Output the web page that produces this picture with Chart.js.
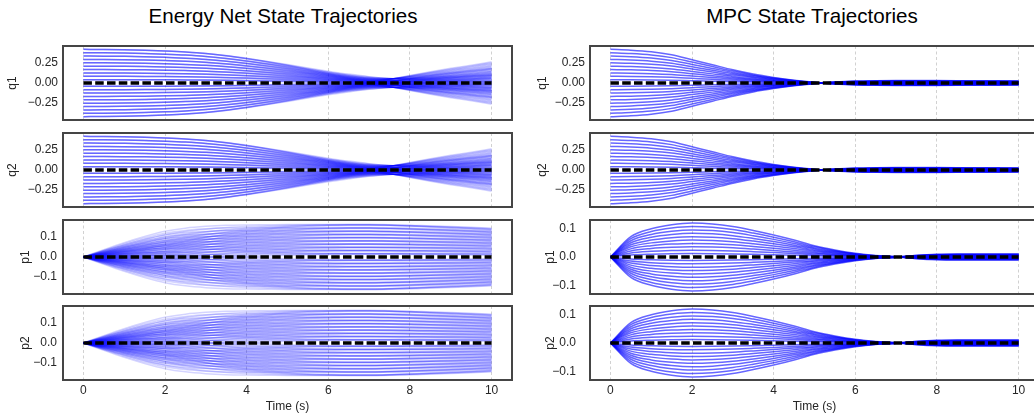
<!DOCTYPE html>
<html><head><meta charset="utf-8">
<script src="https://cdn.jsdelivr.net/npm/chart.js@4.4.1/dist/chart.umd.min.js"></script>
<style>
html,body{margin:0;padding:0;background:#fff;width:1034px;height:419px;overflow:hidden;position:relative;font-family:"Liberation Sans",Arial,sans-serif;}
.panel{position:absolute;overflow:visible;}
.title{position:absolute;top:4px;line-height:23px;font-size:20.6px;color:#000;white-space:nowrap;transform:translateX(-50%);}
</style></head><body>
<div class="title" style="left:283px">Energy Net State Trajectories</div>
<div class="title" style="left:812px">MPC State Trajectories</div>
<script>
// ---- data ----
const timeSteps = [0,0.5,1,1.5,2,2.5,3,3.5,4,4.5,5,5.5,6,6.5,7,7.5,8,8.5,9,9.5,10];
const timeTicks = [0,2,4,6,8,10];
const initialOffsets = [-1,-0.9,-0.8,-0.7,-0.6,-0.5,-0.4,-0.3,-0.2,-0.1,0.1,0.2,0.3,0.4,0.5,0.6,0.7,0.8,0.9,1];
const energyCouplingWeights = [-1,-0.5,0,0.5,1];
const energyQMain     = [0.42,0.419,0.416,0.41,0.4,0.387,0.368,0.34,0.305,0.265,0.222,0.176,0.13,0.085,0.043,0.006,-0.027,-0.055,-0.077,-0.093,-0.105];
const energyQCoupling = [0,0,0,0,0,0,0.001,0.002,0.003,0.005,0.008,0.012,0.018,0.026,0.036,0.05,0.066,0.085,0.106,0.13,0.16];
const energyPMain     = [0,0.025,0.05,0.073,0.094,0.112,0.126,0.137,0.145,0.151,0.156,0.159,0.161,0.162,0.162,0.16,0.157,0.153,0.149,0.145,0.14];
const energyPCoupling = [0,0.012,0.022,0.03,0.035,0.033,0.028,0.022,0.016,0.011,0.007,0.004,0.003,0.002,0.002,0.002,0.003,0.003,0.004,0.004,0.005];
const mpcQMain = [0.42,0.41,0.39,0.352,0.29,0.228,0.165,0.112,0.07,0.035,0.008,-0.012,-0.024,-0.029,-0.031,-0.031,-0.03,-0.029,-0.028,-0.027,-0.026];
const mpcPMain = [0,0.072,0.1,0.114,0.12,0.117,0.108,0.094,0.078,0.06,0.04,0.025,0.013,0.005,0.001,-0.006,-0.01,-0.011,-0.011,-0.011,-0.011];
const referenceValue = 0;
const qTicks = [-0.25,0,0.25];
const qTickLabels = ['\u22120.25','0.00','0.25'];
const pTicks = [-0.1,0,0.1];
const pTickLabels = ['\u22120.1','0.0','0.1'];
const stateNames = ['q1','q2','p1','p2'];
const xAxisTitle = 'Time (s)';

// ---- layout ----
const panelTops = [46,133,220,306];
const panelH = 74;
const FONT = {family:'"Liberation Sans", Arial, sans-serif', size:12};
const TXT = '#262626';

const framePlugin = {
  id:'frame',
  afterDraw(chart){
    const {ctx, chartArea:a} = chart;
    ctx.save();
    ctx.strokeStyle = '#454545';
    ctx.lineWidth = 2;
    ctx.strokeRect(a.left, a.top, a.right - a.left, a.bottom - a.top);
    ctx.restore();
  }
};

function energyDatasets(main, coupling){
  const ds = [];
  initialOffsets.forEach(a => {
    energyCouplingWeights.forEach(b => {
      ds.push({
        data: timeSteps.map((t,i) => ({x:t, y:a*main[i] + b*coupling[i]})),
        borderColor:'rgba(0,0,255,0.17)', borderWidth:1.5, order:1
      });
    });
  });
  return ds;
}
function mpcDatasets(main){
  return initialOffsets.map(a => ({
    data: timeSteps.map((t,i) => ({x:t, y:a*main[i]})),
    borderColor:'rgba(0,0,255,0.6)', borderWidth:1.5, order:1
  }));
}
function referenceDataset(){
  return {
    data: timeSteps.map(t => ({x:t, y:referenceValue})),
    borderColor:'#000', borderWidth:3.5, borderDash:[8.5,3.3], order:0
  };
}

function zeroPad(s){ s.paddingTop = 0; s.paddingBottom = 0; s.paddingLeft = 0; s.paddingRight = 0; }

function makePanel(cfg){
  const bottom = cfg.bottom;
  const axisH = bottom ? 36 : 0;
  const W = 520, H = 2 + panelH + (bottom ? axisH : 2);
  const div = document.createElement('div');
  div.className = 'panel';
  div.style.left = cfg.left + 'px';
  div.style.top = (cfg.top - 2) + 'px';
  div.style.width = W + 'px';
  div.style.height = H + 'px';
  const cv = document.createElement('canvas');
  cv.width = W; cv.height = H;
  cv.style.width = W + 'px'; cv.style.height = H + 'px';
  div.appendChild(cv);
  document.body.appendChild(div);
  const isQ = cfg.name[0] === 'q';
  const ticks = isQ ? qTicks : pTicks;
  const labels = isQ ? qTickLabels : pTickLabels;
  new Chart(cv, {
    type:'line',
    data:{datasets:[referenceDataset(), ...cfg.datasets]},
    options:{
      responsive:false, maintainAspectRatio:false, animation:false, events:[],
      devicePixelRatio:1,
      layout:{padding:{top:2, bottom: bottom ? 0 : 2, left:0, right:cfg.padRight}},
      elements:{point:{radius:0}, line:{cubicInterpolationMode:'monotone', fill:false}},
      plugins:{legend:{display:false}, tooltip:{enabled:false}},
      scales:{
        x:{
          type:'linear', min:-0.5, max:10.5,
          afterBuildTicks: s => { s.ticks = timeTicks.map(v => ({value:v})); },
          afterFit: s => { s.height = axisH; zeroPad(s); },
          ticks:{display:bottom, padding:3, font:FONT, color:TXT, maxRotation:0, autoSkip:false, callback: v => String(v)},
          grid:{display:true, drawTicks:false, color:'#cccccc', lineWidth:0.9},
          border:{display:false, dash:[3,2.5]},
          title:{display:bottom, text:xAxisTitle, font:FONT, color:TXT, padding:{top:0, bottom:2}}
        },
        y:{
          type:'linear', min:cfg.yMin, max:cfg.yMax,
          afterBuildTicks: s => { s.ticks = ticks.map(v => ({value:v})); },
          afterFit: s => { s.width = cfg.yWidth; zeroPad(s); },
          ticks:{padding:cfg.tickPad, font:FONT, color:TXT, autoSkip:false, callback: v => labels[ticks.indexOf(v)]},
          grid:{display:false, drawTicks:false},
          border:{display:false},
          title:{display:true, text:cfg.name, font:FONT, color:TXT, padding:{top:cfg.titlePad, bottom:0}}
        }
      }
    },
    plugins:[framePlugin]
  });
}

const energySets = [
  energyDatasets(energyQMain, energyQCoupling),
  energyDatasets(energyQMain, energyQCoupling),
  energyDatasets(energyPMain, energyPCoupling),
  energyDatasets(energyPMain, energyPCoupling)
];
const mpcSets = [mpcDatasets(mpcQMain), mpcDatasets(mpcQMain), mpcDatasets(mpcPMain), mpcDatasets(mpcPMain)];

stateNames.forEach((name, k) => {
  const isQ = name[0] === 'q';
  makePanel({
    left:0, top:panelTops[k], name, bottom:k===3, padRight:8, yWidth:63,
    yMin: isQ ? -0.462 : -0.186, yMax: isQ ? 0.462 : 0.186,
    tickPad: isQ ? 5 : 6, titlePad: isQ ? 5.3 : 18.8,
    datasets: energySets[k]
  });
  makePanel({
    left:520, top:panelTops[k], name, bottom:k===3, padRight:1, yWidth:70,
    yMin: isQ ? -0.462 : -0.131, yMax: isQ ? 0.462 : 0.131,
    tickPad: isQ ? 5 : 14, titlePad: isQ ? 15.8 : 23.8,
    datasets: mpcSets[k]
  });
});
</script>
</body></html>
